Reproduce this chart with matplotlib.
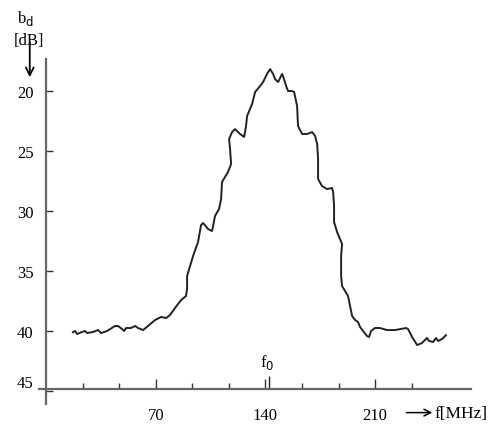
import numpy as np
import matplotlib.pyplot as plt

plt.rcParams['font.family'] = ['Liberation Serif', 'DejaVu Serif']

# measured curve, frequency in MHz and attenuation b_d in dB
f_mhz = [17.0, 18.5, 19.8, 23.0, 24.9, 26.2, 30.0, 33.2, 35.1, 38.9,
         44.0, 45.9, 48.5, 49.8, 51.1, 54.2, 56.8, 58.7, 61.9, 65.1,
         69.6, 73.4, 76.6, 79.1, 82.3, 86.2, 89.3, 90.0, 90.0, 91.9,
         93.8, 97.0, 98.9, 100.2, 103.4, 105.9, 106.6, 107.8, 110.4, 111.7,
         112.3, 116.1, 118.1, 117.4, 116.8, 118.7, 120.6, 123.8, 126.4, 127.6,
         128.3, 131.5, 133.4, 136.6, 138.5, 141.0, 143.0, 144.9, 146.1, 148.1,
         150.6, 151.2, 153.2, 154.4, 157.0, 158.3, 160.2, 160.8, 163.4, 166.6,
         169.8, 171.7, 173.0, 173.6, 173.6, 176.1, 179.3, 182.5, 183.2, 183.8,
         183.8, 185.7, 188.9, 188.3, 188.3, 188.9, 192.7, 195.3, 197.2, 199.1,
         200.4, 204.8, 206.1, 207.4, 209.9, 213.1, 217.6, 222.7, 229.7, 231.0,
         233.6, 236.8, 239.9, 243.1, 244.4, 247.0, 248.9, 250.2, 252.7, 255.3]
bd_db = [40.11, 40.0, 40.25, 40.08, 40.0, 40.17, 40.08, 39.92, 40.17, 40.0,
         39.58, 39.58, 39.83, 40.0, 39.75, 39.75, 39.58, 39.75, 39.92, 39.58,
         39.08, 38.83, 38.92, 38.67, 38.08, 37.42, 37.08, 36.5, 35.42, 34.58,
         33.75, 32.58, 31.17, 31.0, 31.5, 31.67, 31.25, 30.42, 29.83, 29.0,
         27.58, 26.75, 26.08, 24.83, 24.0, 23.42, 23.17, 23.58, 23.83, 22.92,
         22.08, 21.08, 20.08, 19.58, 19.25, 18.58, 18.17, 18.58, 19.0, 19.25,
         18.58, 18.75, 19.58, 20.0, 20.0, 20.08, 21.25, 22.92, 23.58, 23.58,
         23.42, 23.75, 24.42, 25.67, 27.33, 27.92, 28.17, 28.08, 28.42, 29.58,
         30.92, 31.75, 32.75, 33.75, 35.42, 36.25, 37.08, 38.75, 39.08, 39.25,
         39.67, 40.42, 40.5, 40.0, 39.75, 39.75, 39.92, 39.92, 39.75, 39.83,
         40.5, 41.17, 41.0, 40.58, 40.83, 40.92, 40.58, 40.83, 40.67, 40.33]

y_ticks = [20, 25, 30, 35, 40, 45]
x_major = [70, 140, 210]
x_minor = [70 / 3 * k for k in range(1, 11) if k % 3 != 0]
f0 = 142

fig = plt.figure(figsize=(4.95, 4.31), dpi=100)
ax = fig.add_axes([0, 0, 1, 1])
ax.set_xlim(-29.4, 286.5)
ax.set_ylim(48.25, 12.33)

ax.plot(f_mhz, bd_db, color='#222222', lw=1.4, solid_joinstyle='round',
        solid_capstyle='round')

for s in ['top', 'right']:
    ax.spines[s].set_visible(False)
ax.spines['left'].set_position(('data', 0))
ax.spines['left'].set_bounds(46.1, 17.3)
ax.spines['bottom'].set_position(('data', 44.85))
ax.spines['bottom'].set_bounds(-4.5, 271.2)
for s in ['left', 'bottom']:
    ax.spines[s].set_color('#666666')
    ax.spines[s].set_linewidth(1.6)

ax.set_yticks(y_ticks)
ax.set_yticklabels([str(v) for v in y_ticks])
ax.tick_params(axis='y', direction='in', length=5, width=1, color='#333333',
               pad=9, labelsize=12)
ax.get_yticklabels()[-1].set_va('bottom')

ax.set_xticks(x_major)
ax.set_xticklabels([str(v) for v in x_major])
ax.set_xticks(x_minor, minor=True)
ax.tick_params(axis='x', which='major', direction='in', length=7, width=1,
               color='#333333', pad=13, labelsize=12)
ax.tick_params(axis='x', which='minor', direction='in', length=4, width=1,
               color='#333333')

# f0 marker
ax.vlines(f0, 43.75, 44.85, color='#222222', lw=1)
ax.text(f0 - 1, 42.5, 'f$_0$', ha='center', va='center', fontsize=12)

# axis titles with arrows
ax.text(-13.4, 13.9, 'b$_\\mathrm{d}$', ha='center', va='center', fontsize=12)
ax.text(-10.8, 15.75, '[dB]', ha='center', va='center', fontsize=12)
ax.annotate('', xy=(-10.4, 18.85), xytext=(-10.4, 15.9),
            arrowprops=dict(arrowstyle='->', color='black', lw=1.3,
                            mutation_scale=14, shrinkA=0, shrinkB=0))
ax.annotate('', xy=(246.5, 46.8), xytext=(230, 46.8),
            arrowprops=dict(arrowstyle='->', color='black', lw=1.1,
                            mutation_scale=12, shrinkA=0, shrinkB=0))
ax.text(248, 46.8, 'f[MHz]', ha='left', va='center', fontsize=12.5)

fig.savefig('out.png', dpi=100)
